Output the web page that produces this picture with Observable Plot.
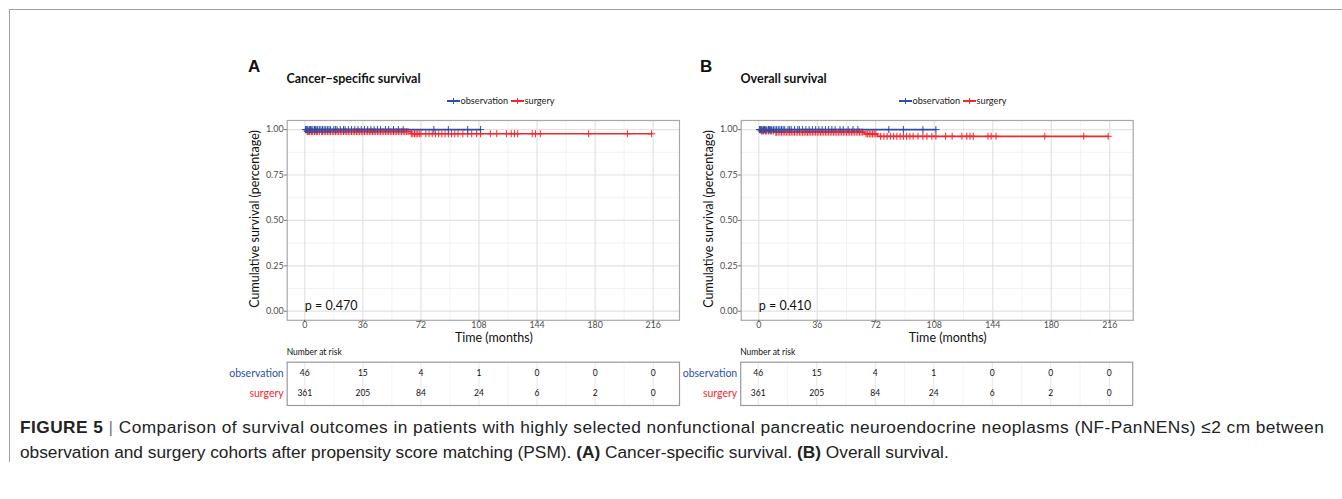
<!DOCTYPE html>
<html><head><meta charset="utf-8">
<script src="https://cdn.jsdelivr.net/npm/d3@7"></script>
<script src="https://cdn.jsdelivr.net/npm/@observablehq/plot@0.6"></script>
<style>
body{margin:0;background:#fff;width:1342px;height:499px;overflow:hidden;position:relative;font-family:Lato,"Open Sans",sans-serif;}
.abs{position:absolute;white-space:nowrap;}
#frame{position:absolute;left:9px;top:9px;width:1340px;height:452px;border-top:1.5px solid #a0a0a0;border-left:1.5px solid #a0a0a0;}
.panelLbl{font-family:"Liberation Sans",Arial,sans-serif;font-weight:bold;font-size:17px;color:#111;}
.title{font-weight:bold;font-size:12.5px;color:#111;}
.leg{font-size:9.2px;color:#222;display:flex;align-items:center;}
.key{display:inline-block;position:relative;width:13px;height:9px;margin-right:1px;}
.key:before{content:"";position:absolute;left:0;right:0;top:4px;height:1.5px;background:currentColor;}
.key:after{content:"";position:absolute;left:6px;width:1.2px;top:1.5px;height:6px;background:currentColor;}
.ylab{font-size:12.5px;color:#111;transform:translate(-50%,-50%) rotate(-90deg);}
.xlab{font-size:12.5px;color:#111;transform:translate(-50%,-50%);}
.nrisk{font-size:8.5px;color:#111;}
.cap{font-family:"Liberation Sans",Arial,sans-serif;font-size:17.3px;color:#222;line-height:20px;left:20px;}
#cap1{top:417px;letter-spacing:0.45px;}
#cap2{top:442px;}
.bar{color:#777;}
</style></head>
<body>
<div id="frame"></div>
<div id="root"></div>
<div class="abs cap" id="cap1"><b>FIGURE 5</b> <span class="bar">|</span> Comparison of survival outcomes in patients with highly selected nonfunctional pancreatic neuroendocrine neoplasms (NF-PanNENs) ≤2 cm between</div>
<div class="abs cap" id="cap2">observation and surgery cohorts after propensity score matching (PSM). <b>(A)</b> Cancer-specific survival. <b>(B)</b> Overall survival.</div>
<script>
// ---- data ----
const groups = ["observation", "surgery"];
const colors = ["#2b50a8", "#f7262b"];
const xMajor = [0, 36, 72, 108, 144, 180, 216];
const xMinor = [18, 54, 90, 126, 162, 198];
const yMajor = [0, 0.25, 0.5, 0.75, 1];
const yMinor = [0.125, 0.375, 0.625, 0.875];

// KM step points (time, survival)
const obsStepA = [[0, 1], [109, 1]];
const surStepA = [[0, 1], [1, 0.989], [66, 0.977], [215, 0.977]];
const obsStepB = [[0, 1], [109, 1]];
const surStepB = [[0, 1], [1, 0.993], [10, 0.986], [65, 0.976], [73, 0.963], [215, 0.963]];

// censoring times
const obsCensor = [0.5, 1, 1.5, 2, 3, 3.5, 4, 5, 6, 6.5, 7, 8, 9, 10, 11, 12, 13, 14, 15, 16, 18, 19, 20, 22, 24, 25, 27, 29, 31, 33, 35,
  37, 39, 41, 43, 45, 47, 50, 52, 55, 58, 61, 80, 89, 101, 109];
const surCensor = [0.5, 1.5, 2, 2.5, 3, 4, 4.5, 5, 6, 7, 7.5, 8, 9, 10.5, 11, 12, 13, 14, 15, 16, 17, 18, 19, 20, 21, 22, 23, 24, 25, 26,
  27, 28, 29, 30, 31, 32, 33, 34, 35, 36, 37, 38, 39, 40, 41, 42, 43, 44, 45, 46, 47, 48, 49, 50, 51, 52, 53, 54, 55, 56, 57, 58, 59,
  60, 61, 62, 63, 64, 66, 67, 68, 69, 70, 71, 72, 75, 77, 79, 81, 83, 85, 87, 89, 91, 93, 95, 98, 101, 103.5, 106.5, 109,
  115, 119, 125, 128, 130, 132, 141, 143, 146, 176, 200, 215];

// number at risk
const riskTimes = [0, 36, 72, 108, 144, 180, 216];
const riskObs = [46, 15, 4, 1, 0, 0, 0];
const riskSur = [361, 205, 84, 24, 6, 2, 0];

const panels = [
  {id: "A", title: "Cancer\u2212specific survival", p: "p = 0.470", obs: obsStepA, sur: surStepA,
   left: 240, plotL: 286.7, plotR: 679, xdom: [-10.9, 232.3], labX: 248, titleX: 286.5, legX: 446.5, tabL: 286.7, tabR: 679},
  {id: "B", title: "Overall survival", p: "p = 0.410", obs: obsStepB, sur: surStepB,
   left: 690, plotL: 740.7, plotR: 1132.7, xdom: [-10.8, 230.4], labX: 700, titleX: 740.5, legX: 898.5, tabL: 740.2, tabR: 1132.2}
];

function survAt(steps, t) {
  let s = steps[0][1];
  for (const [tt, v] of steps) if (tt <= t) s = v;
  return s;
}

const root = document.getElementById("root");
function addDiv(cls, x, y, html) {
  const d = document.createElement("div");
  d.className = "abs " + cls;
  d.style.left = x + "px"; d.style.top = y + "px";
  d.innerHTML = html;
  root.appendChild(d);
  return d;
}
const fontFam = 'Lato, "Open Sans", sans-serif';
const W = 450;

for (const P of panels) {
  addDiv("panelLbl", P.labX, 57, P.id);
  addDiv("title", P.titleX, 71, P.title);
  addDiv("leg", P.legX, 95,
    `<span class="key" style="color:${colors[0]}"></span>${groups[0]}&nbsp;<span class="key" style="color:${colors[1]}"></span>${groups[1]}`);

  const obsPts = P.obs.map(([t, s]) => ({t, s}));
  const surPts = P.sur.map(([t, s]) => ({t, s}));
  const obsC = obsCensor.map(t => ({t, s: survAt(P.obs, t)}));
  const surC = surCensor.map(t => ({t, s: survAt(P.sur, t)}));

  const chart = Plot.plot({
    width: W, height: 230,
    marginLeft: P.plotL - P.left, marginRight: P.left + W - P.plotR, marginTop: 10, marginBottom: 20.2,
    style: {fontFamily: fontFam, fontSize: "9px", color: "#4d4d4d", background: "transparent", overflow: "visible"},
    x: {domain: P.xdom},
    y: {domain: [-0.05, 1.05]},
    marks: [
      Plot.gridX(xMinor, {stroke: "#efefef", strokeOpacity: 1, strokeWidth: 0.8}),
      Plot.gridY(yMinor, {stroke: "#efefef", strokeOpacity: 1, strokeWidth: 0.8}),
      Plot.gridX(xMajor, {stroke: "#e2e2e2", strokeOpacity: 1, strokeWidth: 1.2}),
      Plot.gridY(yMajor, {stroke: "#e2e2e2", strokeOpacity: 1, strokeWidth: 1.2}),
      Plot.frame({stroke: "#a8a8a8", strokeWidth: 1.2}),
      Plot.axisX(xMajor, {tickSize: 2, tickPadding: -1, fontSize: 8.8, stroke: "#666", fill: "#4d4d4d", label: null, tickFormat: d => String(d)}),
      Plot.axisY(yMajor, {tickSize: 2.5, tickPadding: 1, stroke: "#666", fill: "#4d4d4d", label: null, tickFormat: d3.format(".2f")}),
      Plot.line(surPts, {x: "t", y: "s", curve: "step-after", stroke: colors[1], strokeWidth: 1.7}),
      Plot.dot(surC, {x: "t", y: "s", symbol: "plus", r: 2.4, stroke: colors[1], strokeWidth: 1}),
      Plot.line(obsPts, {x: "t", y: "s", curve: "step-after", stroke: colors[0], strokeWidth: 1.6}),
      Plot.dot(obsC, {x: "t", y: "s", symbol: "plus", r: 2.4, stroke: colors[0], strokeWidth: 1}),
      Plot.text([P.p], {x: 0, y: 0.031, text: d => d, textAnchor: "start", fontSize: 12.5, fill: "#111"})
    ]
  });
  chart.style.position = "absolute";
  chart.style.left = P.left + "px";
  chart.style.top = "110px";
  root.appendChild(chart);

  // axis titles
  addDiv("ylab", P.plotL - 32.5, 219, "Cumulative survival (percentage)");
  addDiv("xlab", (P.plotL + P.plotR) / 2 + 11, 336.5, "Time (months)");

  // risk table
  addDiv("nrisk", P.tabL, 347, "Number at risk");
  const rows = [];
  riskTimes.forEach((t, i) => {
    rows.push({t, g: groups[0], n: riskObs[i]});
    rows.push({t, g: groups[1], n: riskSur[i]});
  });
  const table = Plot.plot({
    width: W, height: 55,
    marginLeft: P.tabL - P.left, marginRight: P.left + W - P.tabR, marginTop: 6.7, marginBottom: 5,
    style: {fontFamily: fontFam, fontSize: "8.5px", color: "#111", background: "transparent", overflow: "visible"},
    x: {domain: P.xdom, axis: null},
    y: {type: "point", domain: groups, padding: 0.58, axis: null},
    marks: [
      Plot.gridX(xMinor, {stroke: "#f0f0f0", strokeOpacity: 1, strokeWidth: 0.7}),
      Plot.gridX(xMajor, {stroke: "#e6e6e6", strokeOpacity: 1, strokeWidth: 1}),
      Plot.frame({stroke: "#9a9a9a", strokeWidth: 1.2}),
      Plot.text(rows, {x: "t", y: "g", text: "n", fill: "#111", fontSize: 8.5}),
      Plot.text(groups, {x: P.xdom[0], y: d => d, text: d => d, textAnchor: "end", dx: -3.5, fontSize: 10.5,
        fill: d => colors[groups.indexOf(d)]})
    ]
  });
  table.style.position = "absolute";
  table.style.left = P.left + "px";
  table.style.top = "355px";
  root.appendChild(table);
}
</script>
</body></html>
